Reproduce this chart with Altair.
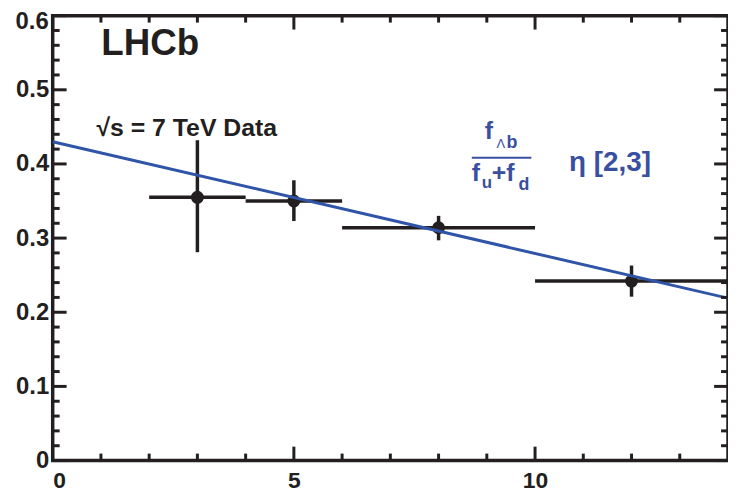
import altair as alt
import pandas as pd

# data
x_center = [3, 5, 8, 12]
x_low = [2, 4, 6, 10]
x_high = [4, 6, 10, 14]
y_val = [0.355, 0.350, 0.314, 0.242]
y_low = [0.281, 0.323, 0.297, 0.221]
y_high = [0.432, 0.378, 0.330, 0.263]

fit_x = [0, 14]
fit_y = [0.430, 0.219]

x_major = [0, 5, 10]
x_minor = [1, 2, 3, 4, 6, 7, 8, 9, 11, 12, 13]
y_major = [0, 0.1, 0.2, 0.3, 0.4, 0.5, 0.6]
y_labels = [0, 0.1, 0.2, 0.3, 0.4, 0.5]
y_top_label = "0.6"
y_minor = [round(0.02 * i, 2) for i in range(1, 30) if i % 5 != 0]

FONT = "Liberation Sans"
BLUE_TXT = "#3a4fa0"
BLUE_LINE = "#2f54a8"
W, H = 680, 448
TOP = 6

pts = pd.DataFrame(dict(x=x_center, xl=x_low, xh=x_high, y=y_val, yl=y_low, yh=y_high))
fit = pd.DataFrame(dict(x=fit_x, y=fit_y))

xs = alt.Scale(domain=[0, 14], nice=False, zero=False)
ys = alt.Scale(domain=[0, 0.6], nice=False, zero=False)

xaxis = alt.Axis(values=x_major, format="d", ticks=False, domain=False, grid=False,
                 labelFont=FONT, labelFontWeight="bold", labelFontSize=23,
                 labelPadding=9, labelColor="#231f20", title=None)
yaxis = alt.Axis(values=y_labels, format="~g", ticks=False, domain=False, grid=False,
                 labelFont=FONT, labelFontWeight="bold", labelFontSize=24,
                 labelPadding=4, labelColor="#231f20", title=None)

base = alt.Chart(pts)

xerr = base.mark_rule(color="#231f20", strokeWidth=3.5).encode(
    x=alt.X("xl:Q", scale=xs, axis=xaxis), x2="xh:Q",
    y=alt.Y("y:Q", scale=ys, axis=yaxis))
yerr = base.mark_rule(color="#231f20", strokeWidth=3.5).encode(
    x=alt.X("x:Q", scale=xs), y=alt.Y("yl:Q", scale=ys), y2="yh:Q")
dots = base.mark_circle(color="#231f20", opacity=1, size=170).encode(
    x=alt.X("x:Q", scale=xs), y=alt.Y("y:Q", scale=ys))

line = alt.Chart(fit).mark_line(color=BLUE_LINE, strokeWidth=3).encode(
    x=alt.X("x:Q", scale=xs), y=alt.Y("y:Q", scale=ys))

def xticks(vals, length):
    df = pd.DataFrame(dict(v=vals))
    b = alt.Chart(df).mark_rule(color="#231f20", strokeWidth=3)
    bottom = b.encode(x=alt.X("v:Q", scale=xs), y=alt.value(H), y2=alt.value(H - length))
    top = b.encode(x=alt.X("v:Q", scale=xs), y=alt.value(0), y2=alt.value(length))
    return bottom + top

def yticks(vals, length):
    df = pd.DataFrame(dict(v=vals))
    b = alt.Chart(df).mark_rule(color="#231f20", strokeWidth=3)
    left = b.encode(y=alt.Y("v:Q", scale=ys), x=alt.value(0), x2=alt.value(length))
    right = b.encode(y=alt.Y("v:Q", scale=ys), x=alt.value(W), x2=alt.value(W - length))
    return left + right

def label(text, x, y, size, color="#231f20", font=FONT, weight="bold", align="left",
          baseline="alphabetic"):
    return alt.Chart(pd.DataFrame(dict(t=[text]))).mark_text(
        font=font, fontWeight=weight, fontSize=size, color=color, align=align,
        baseline=baseline).encode(text="t:N", x=alt.value(x), y=alt.value(y))

frac_bar = alt.Chart(pd.DataFrame(dict(a=[0]))).mark_rule(color=BLUE_TXT, strokeWidth=2).encode(
    x=alt.value(422), x2=alt.value(482), y=alt.value(143))

texts = (
    label(y_top_label, -4, -TOP, 24, align="right", baseline="top")
    + label("LHCb", 49, 40, 37)
    + label("√s = 7 TeV Data", 44, 121, 25)
    + label("η [2,3]", 520, 156, 28, color=BLUE_TXT)
    + label("f", 435, 124, 25, color=BLUE_TXT)
    + label("Λ", 447, 133, 13, color=BLUE_TXT, weight="normal")
    + label("b", 457, 133, 18, color=BLUE_TXT)
    + frac_bar
    + label("f", 422, 167, 25, color=BLUE_TXT)
    + label("u", 432, 174, 17, color=BLUE_TXT)
    + label("+f", 442, 167, 25, color=BLUE_TXT)
    + label("d", 469, 176, 18, color=BLUE_TXT)
)

chart = alt.layer(
    xerr, yerr, dots, line,
    xticks(x_major, 14), xticks(x_minor, 7),
    yticks(y_major, 14), yticks(y_minor, 7),
    texts,
).properties(
    width=W, height=H,
    autosize=alt.AutoSizeParams(type="none"),
    padding={"left": 45, "top": TOP, "right": 0, "bottom": 34},
).configure_view(stroke="#231f20", strokeWidth=3.5)

chart.save("out.html", embed_options={"renderer": "svg", "actions": False})
